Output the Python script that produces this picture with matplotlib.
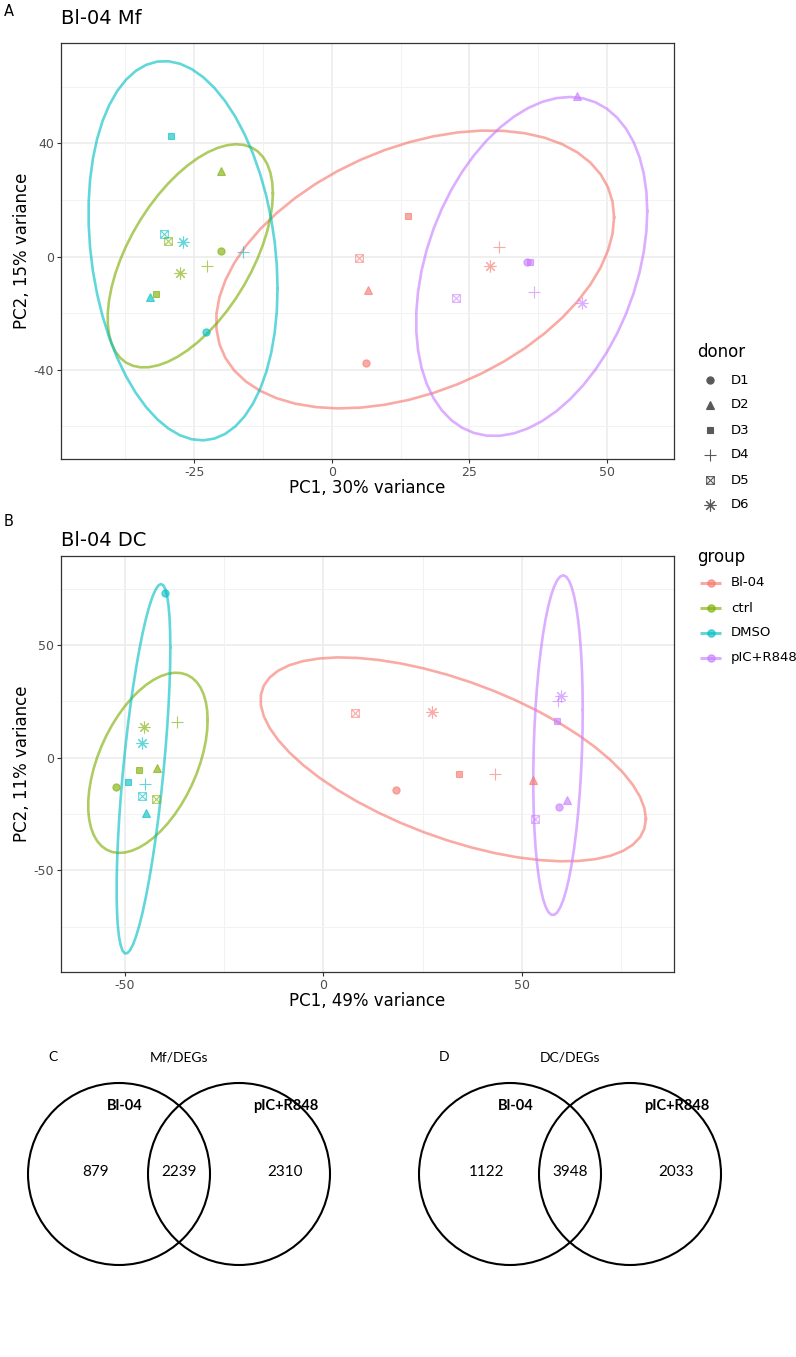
"""
PCA of Bl-04 treated Mf / DC samples plus DEG overlap Venn diagrams.
"""

import numpy as np
import matplotlib
matplotlib.use("Agg")
import matplotlib.pyplot as plt
from matplotlib.path import Path
from matplotlib.patches import Circle

# ---- data -------------------------------------------------------------
groups = ['Bl-04', 'ctrl', 'DMSO', 'pIC+R848']
donors = ['D1', 'D2', 'D3', 'D4', 'D5', 'D6']
group_colors = ['#F8766D', '#7CAE00', '#00BFC4', '#C77CFF']

# samples ordered group by group, donors D1..D6 inside each group
sample_group = [g for g in groups for _ in donors]
sample_donor = [d for _ in groups for d in donors]

mf_pc1 = [6.2, 6.6, 13.9, 30.4, 5.0, 28.7,
          -20.1, -20.2, -31.9, -22.7, -29.7, -27.5,
          -22.9, -33.0, -29.2, -16.1, -30.5, -27.1,
          35.5, 44.5, 36.1, 36.7, 22.5, 45.5]
mf_pc2 = [-37.6, -12.0, 14.5, 3.2, -0.5, -3.5,
          2.0, 30.1, -13.3, -3.2, 5.6, -5.7,
          -26.7, -14.4, 42.5, 1.5, 7.9, 5.3,
          -2.0, 56.9, -2.1, -12.4, -14.5, -16.5]

dc_pc1 = [18.4, 52.8, 34.2, 43.3, 8.1, 27.4,
          -52.2, -41.9, -46.4, -36.7, -42.1, -45.0,
          -39.8, -44.6, -49.1, -44.9, -45.7, -45.5,
          59.3, 61.3, 58.8, 59.2, 53.2, 59.8]
dc_pc2 = [-14.6, -9.9, -7.1, -7.5, 19.7, 20.1,
          -13.1, -4.6, -5.5, 16.0, -18.2, 13.5,
          73.0, -24.7, -10.8, -11.8, -16.9, 6.4,
          -22.0, -18.8, 16.4, 25.3, -27.4, 27.4]

mf_var = [30, 15]
dc_var = [49, 11]

# DEG overlaps: only first, shared, only second
venn_sets = ['Bl-04', 'pIC+R848']
mf_deg_counts = [879, 2239, 2310]
dc_deg_counts = [1122, 3948, 2033]

# ---- markers ----------------------------------------------------------
boxed_x = Path(
    [(-1, -1), (1, -1), (1, 1), (-1, 1), (-1, -1),
     (-1, -1), (1, 1), (-1, 1), (1, -1)],
    [Path.MOVETO, Path.LINETO, Path.LINETO, Path.LINETO, Path.CLOSEPOLY,
     Path.MOVETO, Path.LINETO, Path.MOVETO, Path.LINETO])

donor_style = {
    'D1': dict(marker='o', ms=5.2, filled=True),
    'D2': dict(marker='^', ms=6.2, filled=True),
    'D3': dict(marker='s', ms=5.0, filled=True),
    'D4': dict(marker='+', ms=9.0, filled=False),
    'D5': dict(marker=boxed_x, ms=5.5, filled=False),
    'D6': dict(marker=(8, 2, 0), ms=8.5, filled=False),
}

ALPHA = 0.62
TICK_COL = '#4D4D4D'


def cov_trob(x, nu=5, maxit=25, tol=0.01):
    """Robust t-based covariance, same recipe as MASS::cov.trob."""
    n, p = x.shape
    wt = np.ones(n)
    loc = x.mean(axis=0)
    w = np.sqrt(wt)
    for _ in range(maxit):
        w0 = w
        X = x - loc
        _, d, vt = np.linalg.svd(np.sqrt(w / w.sum())[:, None] * X, full_matrices=False)
        wX = X @ vt.T @ np.diag(1.0 / d)
        Q = (wX ** 2).sum(axis=1)
        w = wt * (nu + p) / (nu + Q)
        loc = (w[:, None] * x).sum(axis=0) / w.sum()
        if np.all(np.abs(w - w0) < tol):
            break
    sx = np.sqrt(w)[:, None] * X
    return loc, sx.T @ sx / wt.sum()


def stat_ellipse(x, level=0.95, segments=51):
    n = len(x)
    dfd = n - 1
    # F(2, dfd) quantile has a closed form
    qf = dfd / 2.0 * ((1 - level) ** (-2.0 / dfd) - 1)
    radius = np.sqrt(2 * qf)
    center, shape = cov_trob(x)
    chol = np.linalg.cholesky(shape).T
    ang = np.arange(segments + 1) * 2 * np.pi / segments
    circ = np.column_stack([np.cos(ang), np.sin(ang)])
    return center + radius * circ @ chol


def pca_panel(ax, pc1, pc2, xlim, ylim, xmaj, ymaj):
    pc1 = np.asarray(pc1)
    pc2 = np.asarray(pc2)
    g_arr = np.array(sample_group)
    d_arr = np.array(sample_donor)

    # grid like theme_bw
    for v in xmaj:
        ax.axvline(v, color='#EBEBEB', lw=1.1, zorder=0)
    for v in ymaj:
        ax.axhline(v, color='#EBEBEB', lw=1.1, zorder=0)
    step_x = xmaj[1] - xmaj[0]
    step_y = ymaj[1] - ymaj[0]
    for v in np.arange(xmaj[0] - step_x / 2, xmaj[-1] + step_x, step_x):
        ax.axvline(v, color='#F2F2F2', lw=0.7, zorder=0)
    for v in np.arange(ymaj[0] - step_y / 2, ymaj[-1] + step_y, step_y):
        ax.axhline(v, color='#F2F2F2', lw=0.7, zorder=0)

    for g, col in zip(groups, group_colors):
        m = g_arr == g
        for dn in donors:
            mm = m & (d_arr == dn)
            st = donor_style[dn]
            ax.plot(pc1[mm], pc2[mm], ls='none', marker=st['marker'], ms=st['ms'],
                    mfc=col if st['filled'] else 'none', mec=col, mew=0.8,
                    alpha=ALPHA, zorder=3)
        ell = stat_ellipse(np.column_stack([pc1[m], pc2[m]]))
        ax.plot(ell[:, 0], ell[:, 1], color=col, lw=1.9, alpha=ALPHA, zorder=2)

    ax.set_xlim(*xlim)
    ax.set_ylim(*ylim)
    ax.set_xticks(xmaj)
    ax.set_yticks(ymaj)
    ax.set_xticklabels([str(v) for v in xmaj])
    ax.set_yticklabels([str(v) for v in ymaj])
    ax.tick_params(length=3, width=0.8, color='#333333', labelsize=9,
                   labelcolor=TICK_COL, pad=2)
    for sp in ax.spines.values():
        sp.set_color('#333333')
        sp.set_linewidth(0.9)


W, H = 796, 1357
fig = plt.figure(figsize=(W / 100, H / 100), dpi=100)

# overlay in pixel coordinates for titles, legend and venns
ov = fig.add_axes([0, 0, 1, 1])
ov.set_xlim(0, W)
ov.set_ylim(H, 0)
ov.axis('off')


def px_axes(left, top, right, bottom):
    return fig.add_axes([left / W, 1 - bottom / H, (right - left) / W, (bottom - top) / H])


ax_a = px_axes(61, 43, 674, 459)
pca_panel(ax_a, mf_pc1, mf_pc2, (-49.2, 62.2), (-71.6, 75.5), [-25, 0, 25, 50], [-40, 0, 40])

ax_b = px_axes(61, 556, 674, 972)
pca_panel(ax_b, dc_pc1, dc_pc2, (-66.0, 88.3), (-95.2, 89.5), [-50, 0, 50], [-50, 0, 50])

# titles and axis labels
ov.text(4, 11, 'A', fontsize=10.5, va='center', ha='left')
ov.text(61, 18, 'Bl-04 Mf', fontsize=14, va='center', ha='left')
ov.text(367, 488, f'PC1, {mf_var[0]}% variance', fontsize=12, ha='center', va='center')
ov.text(22, 251, f'PC2, {mf_var[1]}% variance', fontsize=12, ha='center', va='center',
        rotation=90)

ov.text(4, 521, 'B', fontsize=10.5, va='center', ha='left')
ov.text(61, 540, 'Bl-04 DC', fontsize=14, va='center', ha='left')
ov.text(367, 1001, f'PC1, {dc_var[0]}% variance', fontsize=12, ha='center', va='center')
ov.text(22, 764, f'PC2, {dc_var[1]}% variance', fontsize=12, ha='center', va='center',
        rotation=90)

# legends
ov.text(697, 352, 'donor', fontsize=12, va='center', ha='left')
for i, dn in enumerate(donors):
    y = 380 + 25 * i
    st = donor_style[dn]
    ov.plot([710], [y], ls='none', marker=st['marker'], ms=st['ms'],
            mfc='#595959' if st['filled'] else 'none', mec='#595959', mew=0.8)
    ov.text(731, y, dn, fontsize=9.5, va='center', ha='left')

ov.text(697, 557, 'group', fontsize=12, va='center', ha='left')
for i, (g, col) in enumerate(zip(groups, group_colors)):
    y = 583 + 25 * i
    ov.plot([700, 721], [y, y], color=col, lw=2.2, alpha=ALPHA, solid_capstyle='butt')
    ov.plot([710.5], [y], ls='none', marker='o', ms=5.2, color=col, alpha=ALPHA)
    ov.text(731, y, g, fontsize=9.5, va='center', ha='left')


# venn diagrams
def venn(cx_left, cx_right, cy, r, letter, title, counts):
    for cx in (cx_left, cx_right):
        ov.add_patch(Circle((cx, cy), r, fill=False, ec='black', lw=1.5))
    mid = (cx_left + cx_right) / 2
    ov.text(cx_left - r + 20, 1057, letter, fontsize=10, family='Lato', va='center')
    ov.text(mid, 1057, title, fontsize=10, family='Lato', va='center', ha='center')
    ov.text(cx_left + 6, 1106, venn_sets[0], fontsize=10.5, family='Lato',
            weight='bold', va='center', ha='center')
    ov.text(cx_right + 47, 1106, venn_sets[1], fontsize=10.5, family='Lato',
            weight='bold', va='center', ha='center')
    ov.text(cx_left - 23, 1172, f'{counts[0]}', fontsize=11, family='Lato',
            va='center', ha='center')
    ov.text(mid, 1172, f'{counts[1]}', fontsize=11, family='Lato',
            va='center', ha='center')
    ov.text(cx_right + 46, 1172, f'{counts[2]}', fontsize=11, family='Lato',
            va='center', ha='center')


venn(119, 239, 1174, 91, 'C', 'Mf/DEGs', mf_deg_counts)
venn(510, 630, 1174, 91, 'D', 'DC/DEGs', dc_deg_counts)

fig.savefig('out.png', dpi=100)
